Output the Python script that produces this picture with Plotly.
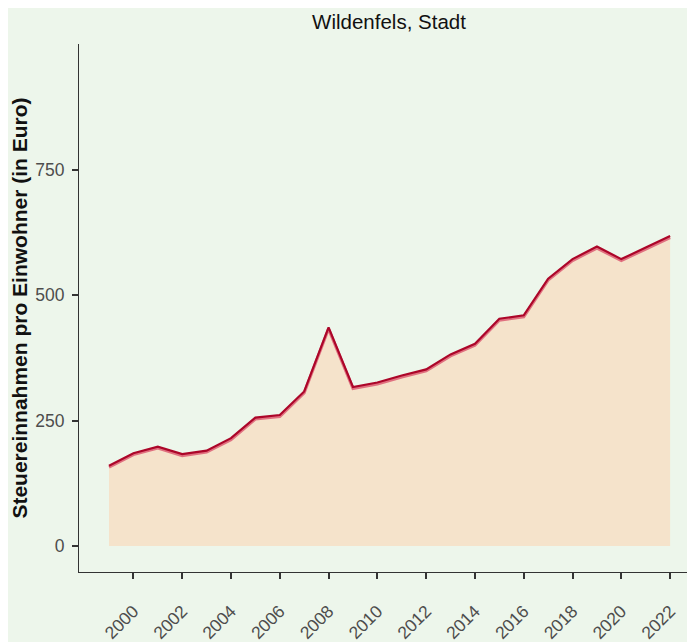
import plotly.graph_objects as go

years = list(range(1999, 2023))
values = [160, 185, 198, 183, 190, 215, 256, 261, 308, 436, 317, 326, 340, 352,
          382, 403, 453, 460, 533, 572, 597, 572, 595, 618]
title = "Wildenfels, Stadt"
ytitle = "Steuereinnahmen pro Einwohner (in Euro)"
xticks = list(range(2000, 2023, 2))
yticks = [0, 250, 500, 750]

bg = "#EDF6EB"
W, H = 687, 634  # page body has an 8px margin
fig = go.Figure()
fig.add_trace(go.Scatter(x=years, y=values, fill="tozeroy", fillcolor="#F5E3CB",
                         mode="none", showlegend=False, hoverinfo="skip"))
fig.add_trace(go.Scatter(x=years, y=[v - 3 for v in values], mode="lines",
                         line=dict(color="#E0707F", width=3), showlegend=False,
                         hoverinfo="skip"))
fig.add_trace(go.Scatter(x=years, y=values, mode="lines",
                         line=dict(color="#AC0629", width=2.2), showlegend=False))

font = "Liberation Sans, Arial, sans-serif"
fig.update_layout(
    width=W, height=H,
    paper_bgcolor=bg, plot_bgcolor=bg,
    margin=dict(l=71, r=0, t=36, b=70),
    title=dict(text=title, x=381 / W, xanchor="center", y=1 - 14 / H, yanchor="middle",
               font=dict(family=font, size=20.5, color="#111111")),
    font=dict(family=font),
)
fig.update_xaxes(range=[1997.77, 2023.02], tickvals=xticks, ticktext=[str(t) for t in xticks],
                 tickangle=-45, ticks="outside", ticklen=6, tickwidth=1.6, tickcolor="#333333",
                 showline=True, linecolor="#333333", linewidth=1.2, showgrid=False, zeroline=False,
                 tickfont=dict(family=font, size=17.5, color="#4D4D4D"), ticklabelstandoff=15,
                 automargin=False)
fig.update_yaxes(range=[-52, 1001], tickvals=yticks, ticktext=[str(t) for t in yticks],
                 ticks="outside", ticklen=6, tickwidth=1.6, tickcolor="#333333",
                 showline=True, linecolor="#333333", linewidth=1.2, showgrid=False, zeroline=False,
                 tickfont=dict(family=font, size=17.5, color="#4D4D4D"), automargin=False,
                 ticklabelstandoff=4,
                 title=dict(text="<b>" + ytitle + "</b>", font=dict(family=font, size=21, color="#111111"),
                            standoff=17))
fig.write_html("out.html")
